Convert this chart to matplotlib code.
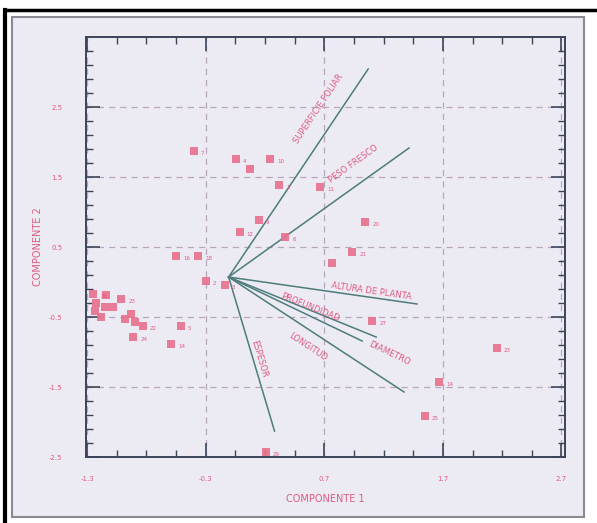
import matplotlib
matplotlib.use("Agg")
import matplotlib.pyplot as plt
from matplotlib.ticker import FixedLocator
from matplotlib.patches import Rectangle
from matplotlib.lines import Line2D
import numpy as np

# ---- data ----
pc1 = [-0.401, -0.048, 0.070, 0.246, 0.322, 0.666, -0.014, 0.145, 0.372, 1.045,
       0.767, 0.935, -0.552, -0.367, -0.300, -0.140, -1.250, -1.224, -1.140, -1.014,
       -1.233, -1.149, -1.082, -1.182, -0.981, -0.930, -0.897, -0.829, -0.913, -0.594,
       -0.510, 1.103, 2.154, 1.666, 1.549, 0.204]
pc2 = [1.871, 1.757, 1.614, 1.757, 1.386, 1.357, 0.714, 0.886, 0.643, 0.857,
       0.271, 0.429, 0.371, 0.371, 0.014, -0.043, -0.171, -0.300, -0.186, -0.243,
       -0.414, -0.357, -0.357, -0.500, -0.529, -0.457, -0.571, -0.629, -0.786, -0.886,
       -0.629, -0.557, -0.943, -1.429, -1.914, -2.429]
point_labels = ["7", "4", "", "10", "1", "11", "12", "9", "6", "20",
                "", "21", "16", "18", "2", "3", "28", "", "", "23",
                "", "", "", "", "", "", "", "22", "24", "14",
                "5", "27", "23", "14", "25", "29"]

vec_origin = (-0.107, 0.071)
vec_names = ["SUPERFICIE FOLIAR", "PESO FRESCO", "ALTURA DE PLANTA", "PROFUNDIDAD",
             "DIAMETRO", "LONGITUD", "ESPESOR"]
vec_x = [1.070, 1.414, 1.482, 1.137, 1.019, 1.372, 0.280]
vec_y = [3.043, 1.914, -0.314, -0.786, -0.843, -1.571, -2.129]
# label anchor positions for the vector names (data units)
vec_label_x = [0.650, 0.945, 1.101, 0.579, 1.245, 0.562, 0.150]
vec_label_y = [2.470, 1.680, -0.135, -0.357, -1.014, -0.929, -1.100]

xticks = [-1.3, -0.3, 0.7, 1.7, 2.7]
xtick_labels = ["-1.3", "-0.3", "0.7", "1.7", "2.7"]
yticks = [-2.5, -1.5, -0.5, 0.5, 1.5, 2.5]
ytick_labels = ["-2.5", "-1.5", "-0.5", "0.5", "1.5", "2.5"]

# ---- style ----
bg = "#ecebf4"
pink = "#e05a80"
mark = "#e8708c"
line_c = "#4d7c7a"
axis_c = "#3c4458"

fig = plt.figure(figsize=(5.97, 5.23), dpi=100)
fig.patch.set_facecolor("white")

# scan frame
fig.add_artist(Rectangle((12/597, 1-517/523), (584-12)/597, (517-17)/523,
                         transform=fig.transFigure, facecolor=bg,
                         edgecolor="#8a8a92", linewidth=1.5, zorder=0))
fig.add_artist(Line2D([5/597, 1], [1-10/523, 1-10/523], transform=fig.transFigure,
                      color="black", linewidth=2.5))
fig.add_artist(Line2D([5/597, 5/597], [0, 1-10/523], transform=fig.transFigure,
                      color="black", linewidth=3))

ax = fig.add_axes([86/597, 1-457/523, (565-86)/597, (457-37)/523])
ax.set_facecolor(bg)
ax.set_xlim(-1.31, 2.73)
ax.set_ylim(-2.5, 3.5)

for s in ax.spines.values():
    s.set_color(axis_c)
    s.set_linewidth(1.4)

ax.xaxis.set_major_locator(FixedLocator(xticks))
ax.yaxis.set_major_locator(FixedLocator(yticks))
ax.set_xticklabels(xtick_labels)
ax.set_yticklabels(ytick_labels)
ax.xaxis.set_minor_locator(FixedLocator(np.arange(-1.3, 2.75, 0.25)))
ax.yaxis.set_minor_locator(FixedLocator(np.arange(-2.5, 3.5, 0.2)))
ax.tick_params(which="both", direction="in", top=True, right=True, color=axis_c,
               labelcolor=pink, labelsize=5)
ax.tick_params(which="major", length=10, width=1.2, pad=14)
ax.tick_params(which="minor", length=5, width=1.0)
ax.tick_params(axis="y", which="major", pad=17)

ax.grid(True, which="major", linestyle=(0, (5, 4)), color="#b8a6bc", linewidth=0.9)
ax.set_axisbelow(True)

# vectors
ox, oy = vec_origin
for vx, vy in zip(vec_x, vec_y):
    ax.plot([ox, vx], [oy, vy], color=line_c, linewidth=1.1, zorder=3)

# vector labels, rotated along their lines
xs = 479 / (2.73 + 1.31)
ys = 420 / 6.0
for name, vx, vy, lx, ly in zip(vec_names, vec_x, vec_y, vec_label_x, vec_label_y):
    ang = np.degrees(np.arctan2((vy - oy) * ys, (vx - ox) * xs))
    if ang < -90:
        ang += 180
    ax.text(lx, ly, name, rotation=ang, rotation_mode="anchor", ha="center",
            va="center", fontsize=6, color=pink, zorder=4)

# points
ax.scatter(pc1, pc2, marker="s", s=30, color=mark, alpha=0.9, linewidths=0, zorder=5)
for x, y, t in zip(pc1, pc2, point_labels):
    if t:
        ax.text(x + 0.06, y - 0.04, t, fontsize=4, color=pink, ha="left", va="center",
                zorder=6)

ax.set_xlabel("COMPONENTE 1", color=pink, fontsize=7, labelpad=8)
ax.set_ylabel("COMPONENTE 2", color=pink, fontsize=7, labelpad=4)

fig.savefig("out.png", dpi=100)
